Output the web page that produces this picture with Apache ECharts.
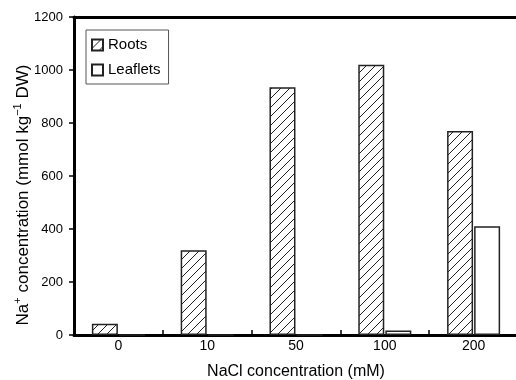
<!DOCTYPE html>
<html>
<head>
<meta charset="utf-8">
<script src="https://cdn.jsdelivr.net/npm/echarts@6/dist/echarts.min.js"></script>
<style>
  html, body { margin: 0; padding: 0; background: #fff; }
  #chart { width: 516px; height: 380px; }
</style>
</head>
<body>
<div id="chart"></div>
<script>
// NaCl treatment levels (mM) and Na+ content
const categories = ['0', '10', '50', '100', '200'];
const roots = [42, 320, 935, 1020, 770];
const leaflets = [0, 0, 0, 17, 410];
const yTicks = [0, 200, 400, 600, 800, 1000, 1200];

const FONT = 'Liberation Sans';

// diagonal hatch used for the Roots bars
function hatch() {
    const n = 9;
    const c = document.createElement('canvas');
    c.width = n;
    c.height = n;
    const ctx = c.getContext('2d');
    ctx.fillStyle = '#fff';
    ctx.fillRect(0, 0, n, n);
    ctx.strokeStyle = '#222';
    ctx.lineWidth = 1;
    ctx.beginPath();
    ctx.moveTo(0, n); ctx.lineTo(n, 0);
    ctx.moveTo(-1, 1); ctx.lineTo(1, -1);
    ctx.moveTo(n - 1, n + 1); ctx.lineTo(n + 1, n - 1);
    ctx.stroke();
    return c;
}

const axisLine = { show: true, lineStyle: { color: '#000', width: 3 } };

const option = {
    backgroundColor: '#fff',
    animation: false,
    textStyle: { fontFamily: FONT, color: '#000' },
    grid: { left: 74, right: -2, top: 17, bottom: 45, containLabel: false, outerBoundsMode: 'none' },
    legend: {
        orient: 'vertical',
        left: 86,
        top: 30,
        padding: [6, 8, 5, 5],
        itemGap: 7,
        itemWidth: 11,
        itemHeight: 11,
        borderColor: '#555',
        borderWidth: 1,
        borderRadius: 0,
        textStyle: { fontFamily: FONT, fontSize: 15, color: '#000', lineHeight: 18 },
        data: [
            { name: 'Roots', icon: 'rect' },
            { name: 'Leaflets', icon: 'rect' }
        ]
    },
    xAxis: [
        {
            type: 'category',
            data: categories,
            axisLine: axisLine,
            axisTick: { show: true, inside: true, length: 5, lineStyle: { color: '#000', width: 1.5 } },
            axisLabel: { fontFamily: FONT, fontSize: 14, color: '#000', margin: 4 },
            name: 'NaCl concentration (mM)',
            nameLocation: 'middle',
            nameGap: 29,
            nameMoveOverlap: false,
            nameTextStyle: { fontFamily: FONT, fontSize: 16, color: '#000' }
        },
        {
            type: 'category',
            position: 'top',
            data: categories,
            axisLine: axisLine,
            axisTick: { show: false },
            axisLabel: { show: false }
        }
    ],
    yAxis: {
        type: 'value',
        min: yTicks[0],
        max: yTicks[yTicks.length - 1],
        interval: 200,
        splitLine: { show: false },
        axisLine: axisLine,
        axisTick: { show: true, length: 5, lineStyle: { color: '#000', width: 1.5 } },
        axisLabel: { fontFamily: FONT, fontSize: 13, color: '#000', margin: 11, formatter: v => String(v) },
        name: '{b|Na}{s|+}{b| concentration (mmol kg}{s|−1}{b| DW)}',
        nameLocation: 'middle',
        nameGap: 42,
        nameMoveOverlap: false,
        nameTextStyle: {
            padding: [0, 38, 0, 0],
            rich: {
                b: { fontFamily: FONT, fontSize: 17, color: '#000', lineHeight: 20, verticalAlign: 'bottom' },
                s: { fontFamily: FONT, fontSize: 11, color: '#000', lineHeight: 20, verticalAlign: 'top' }
            }
        }
    },
    series: [
        {
            name: 'Roots',
            type: 'bar',
            data: roots,
            barWidth: 26,
            barGap: '4%',
            itemStyle: {
                color: { image: hatch(), repeat: 'repeat' },
                borderColor: '#222',
                borderWidth: 1.5
            }
        },
        {
            name: 'Leaflets',
            type: 'bar',
            data: leaflets,
            barWidth: 26,
            itemStyle: {
                color: '#fff',
                borderColor: '#222',
                borderWidth: 1.5
            }
        }
    ]
};

const myChart = echarts.init(document.getElementById('chart'));
myChart.setOption(option);
</script>
</body>
</html>
